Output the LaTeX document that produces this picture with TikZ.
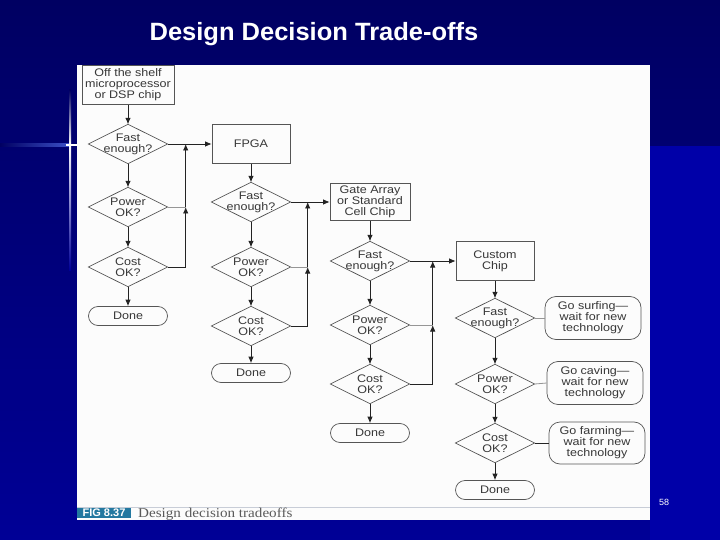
\documentclass[tikz,border=0pt]{standalone}
\usepackage{fontspec}
\setmainfont{Liberation Sans}
\newfontfamily\diagfont[FakeStretch=1.14]{Liberation Sans}
\newfontfamily\titlefont[FakeStretch=1.02]{Liberation Sans}
\newfontfamily\capserif[FakeStretch=1.12]{Liberation Serif}
\usetikzlibrary{arrows.meta,calc}
\definecolor{bgtop}{RGB}{0,0,98}
\definecolor{bgbot}{RGB}{0,0,150}
\definecolor{bgright}{RGB}{0,0,168}
\definecolor{glowc}{RGB}{60,80,200}
\definecolor{txtc}{RGB}{55,55,55}
\definecolor{linec}{RGB}{85,85,85}
\definecolor{arrc}{RGB}{35,35,35}
\definecolor{lightln}{RGB}{150,150,150}
\definecolor{figteal}{RGB}{35,120,160}
\definecolor{panelc}{RGB}{252,252,252}
\definecolor{capline}{RGB}{200,205,215}
\definecolor{captxt}{RGB}{90,90,90}
\begin{document}
\begin{tikzpicture}[x=1pt,y=-1pt,
  lbl/.style={font=\diagfont\fontsize{11}{11}\selectfont, text=txtc, align=center, inner sep=0pt},
  boxn/.style={lbl, draw=linec, line width=0.7pt, rectangle, minimum width=78pt, minimum height=39pt},
  dia/.style={lbl, rectangle, minimum width=79pt, minimum height=39pt},
  donen/.style={lbl, draw=linec, line width=0.7pt, minimum width=79pt, minimum height=19pt, rounded corners=9.5pt},
  waitn/.style={lbl, draw=linec, line width=0.7pt, minimum width=96pt, minimum height=43pt, rounded corners=11pt},
  arr/.style={draw=arrc, line width=0.8pt, -{Latex[length=6.5pt,width=5.5pt]}},
  ln/.style={draw=arrc, line width=0.8pt},
  lnl/.style={draw=lightln, line width=0.8pt},
  diac/.style={draw=linec, line width=0.7pt}
]
\useasboundingbox (0,0) rectangle (720,540);
% background
\shade[top color=bgtop, bottom color=bgbot] (0,0) rectangle (720,540);
\fill[bgright] (650,146) rectangle (720,540);
\shade[left color=bgtop, right color=glowc] (0,144) rectangle (70,146.5);
\shade[top color=bgtop, bottom color=white] (69,90) rectangle (71.2,145);
\shade[top color=white, bottom color=bgbot] (69,145) rectangle (71.2,270);
\fill[white] (66,144.2) rectangle (77,146.2);
% title
\node[font=\titlefont\fontsize{25}{25}\selectfont\bfseries, text=white, inner sep=0pt] (title) at (314,34) {Design Decision Trade-offs};
\node[font=\fontsize{9}{9}\selectfont, text=white, inner sep=0pt] (pg) at (664,502) {58};
% panel
\fill[panelc] (77,65) rectangle (650,520);
\draw[capline, line width=0.8pt] (77,507) -- (650,507);
\fill[figteal] (77,508) rectangle (131,518);
\node[font=\fontsize{11}{11}\selectfont\bfseries, text=white, inner sep=0pt] (fig) at (104,513) {FIG 8.37};
\node[font=\capserif\fontsize{13.5}{13.5}\selectfont, text=captxt, inner sep=0pt, anchor=west] (cap) at (138,514) {Design decision tradeoffs};

% column 1
\node[boxn, minimum width=92pt] (s1) at (128,85) {Off the shelf\\microprocessor\\or DSP chip};
\node[dia] (f1) at (128,144) {Fast\\enough?};
\node[dia] (p1) at (128,207) {Power\\OK?};
\node[dia] (c1) at (128,267) {Cost\\OK?};
\node[donen] (d1) at (128,316) {Done};
% column 2
\node[boxn] (s2) at (251,144) {FPGA};
\node[dia] (f2) at (251,202) {Fast\\enough?};
\node[dia] (p2) at (251,267) {Power\\OK?};
\node[dia] (c2) at (251,326) {Cost\\OK?};
\node[donen] (d2) at (251,373) {Done};
% column 3
\node[boxn, minimum width=80pt, minimum height=37pt] (s3) at (370,202) {Gate Array\\or Standard\\Cell Chip};
\node[dia] (f3) at (370,261) {Fast\\enough?};
\node[dia] (p3) at (370,325) {Power\\OK?};
\node[dia] (c3) at (370,384) {Cost\\OK?};
\node[donen] (d3) at (370,433) {Done};
% column 4
\node[boxn] (s4) at (495,261) {Custom\\Chip};
\node[dia] (f4) at (495,318) {Fast\\enough?};
\node[dia] (p4) at (495,384) {Power\\OK?};
\node[dia] (c4) at (495,443) {Cost\\OK?};
\node[donen] (d4) at (495,490) {Done};
\node[waitn] (w1) at (593,318) {Go surfing—\\wait for new\\technology};
\node[waitn] (w2) at (595,383) {Go caving—\\wait for new\\technology};
\node[waitn, minimum height=42pt] (w3) at (597,443) {Go farming—\\wait for new\\technology};

% diamonds
\foreach \n in {f1,p1,c1,f2,p2,c2,f3,p3,c3,f4,p4,c4}
  \draw[diac] (\n.west) -- (\n.north) -- (\n.east) -- (\n.south) -- cycle;

% vertical flow
\foreach \a/\b in {s1/f1,f1/p1,p1/c1,c1/d1,s2/f2,f2/p2,p2/c2,c2/d2,s3/f3,f3/p3,p3/c3,c3/d3,s4/f4,f4/p4,p4/c4,c4/d4}
  \draw[arr] (\a.south) -- (\b.north);

% loops
\path (c1.east) ++(18,0) coordinate (l1);
\draw[arr] (c1.east) -- (l1) -- (l1 |- p1.east);
\draw[lnl] (p1.east) -- (l1 |- p1.east);
\draw[arr] (l1 |- p1.east) -- (l1 |- f1.east);
\draw[arr] (f1.east) -- (s2.west);

\path (c2.east) ++(17,0) coordinate (l2);
\draw[arr] (c2.east) -- (l2) -- (l2 |- p2.east);
\draw[lnl] (p2.east) -- (l2 |- p2.east);
\draw[arr] (l2 |- p2.east) -- (l2 |- f2.east);
\draw[arr] (f2.east) -- (s3.west |- f2.east);

\path (c3.east) ++(23,0) coordinate (l3);
\draw[arr] (c3.east) -- (l3) -- (l3 |- p3.east);
\draw[lnl] (p3.east) -- (l3 |- p3.east);
\draw[arr] (l3 |- p3.east) -- (l3 |- f3.east);
\draw[arr] (f3.east) -- (s4.west);

% give-up lines
\draw[lnl] (f4.east) -- (w1.west);
\draw[lnl] (p4.east) -- (w2.west);
\draw[ln] (c4.east) -- (w3.west);
\end{tikzpicture}
\end{document}
